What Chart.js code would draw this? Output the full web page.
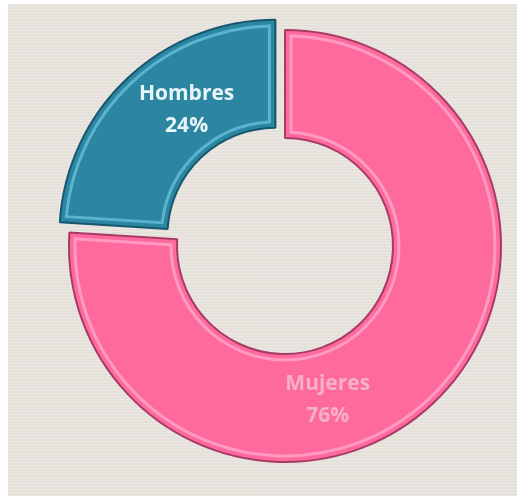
<!DOCTYPE html>
<html>
<head>
<meta charset="utf-8">
<script src="https://cdn.jsdelivr.net/npm/chart.js@4.4.1/dist/chart.umd.min.js"></script>
<style>
    html, body {margin: 0; padding: 0; background: #ffffff; overflow: hidden;}
    body {width: 517px; height: 499px; position: relative;}
    .bg {
        position: absolute; left: 8px; top: 4px; width: 509px; height: 492px;
        background-color: #e5e0d9;
        background-image: repeating-linear-gradient(0deg, rgba(255,255,255,0.25) 0px, rgba(255,255,255,0.25) 1px, rgba(0,0,0,0) 1px, rgba(0,0,0,0) 3px);
    }
    .wrap {position: absolute; left: 40px; top: 1px; width: 490px; height: 490px;}
</style>
</head>
<body>
<div class="bg"></div>
<div class="wrap"><canvas id="myChart"></canvas></div>
<script>
    // datos
    const categories = ['Mujeres', 'Hombres'];
    const values = [76, 24];
    const percentLabels = ['76%', '24%'];

    const fillColors = ['#fe6a9e', '#2c86a2'];
    const edgeColors = ['#a83a66', '#17576e'];
    const lightColors = ['rgba(255,160,195,0.9)', 'rgba(95,185,212,0.9)'];
    const textColors = ['#f6b0c8', '#e8f6fa'];

    // bisel interior de cada sector
    const bevelPlugin = {
        id: 'bevel',
        afterDatasetsDraw(chart) {
            const ctx = chart.ctx;
            const meta = chart.getDatasetMeta(0);
            meta.data.forEach((arc, i) => {
                const p = arc.getProps(['x', 'y', 'startAngle', 'endAngle', 'innerRadius', 'outerRadius']);
                const off = (arc.options.offset || 0) / 4;
                const half = (p.startAngle + p.endAngle) / 2;
                const cx = p.x + Math.cos(half) * off;
                const cy = p.y + Math.sin(half) * off;
                const d = 6;
                const ro = p.outerRadius - d;
                const ri = p.innerRadius + d;
                ctx.save();
                ctx.beginPath();
                ctx.arc(cx, cy, ro, p.startAngle + d / ro, p.endAngle - d / ro);
                ctx.arc(cx, cy, ri, p.endAngle - d / ri, p.startAngle + d / ri, true);
                ctx.closePath();
                ctx.lineWidth = 3;
                ctx.strokeStyle = lightColors[i];
                ctx.stroke();
                ctx.restore();
            });
        }
    };

    // etiquetas dentro de los sectores
    const labelPlugin = {
        id: 'sliceLabels',
        afterDraw(chart) {
            const ctx = chart.ctx;
            const meta = chart.getDatasetMeta(0);
            meta.data.forEach((arc, i) => {
                const p = arc.getProps(['x', 'y', 'startAngle', 'endAngle', 'innerRadius', 'outerRadius']);
                const off = (arc.options.offset || 0) / 4;
                const half = (p.startAngle + p.endAngle) / 2;
                const cx = p.x + Math.cos(half) * off;
                const cy = p.y + Math.sin(half) * off;
                const a = p.startAngle + 0.6 * (p.endAngle - p.startAngle);
                const r = p.innerRadius + 0.45 * (p.outerRadius - p.innerRadius);
                const lx = cx + Math.cos(a) * r;
                const ly = cy + Math.sin(a) * r;
                ctx.save();
                ctx.font = 'bold 21px "Open Sans"';
                ctx.textAlign = 'center';
                ctx.textBaseline = 'middle';
                ctx.fillStyle = textColors[i];
                ctx.fillText(categories[i], lx, ly - 13);
                ctx.fillText(percentLabels[i], lx, ly + 19);
                ctx.restore();
            });
        }
    };

    const ctx = document.getElementById('myChart');

    new Chart(ctx, {
        type: 'doughnut',
        data: {
            labels: categories,
            datasets: [{
                data: values,
                backgroundColor: fillColors,
                borderColor: edgeColors,
                borderWidth: 2,
                offset: [0, 56]
            }]
        },
        options: {
            responsive: true,
            maintainAspectRatio: false,
            animation: false,
            cutout: '50%',
            layout: {padding: 0},
            plugins: {
                legend: {display: false},
                tooltip: {enabled: false}
            }
        },
        plugins: [bevelPlugin, labelPlugin]
    });
</script>
</body>
</html>
